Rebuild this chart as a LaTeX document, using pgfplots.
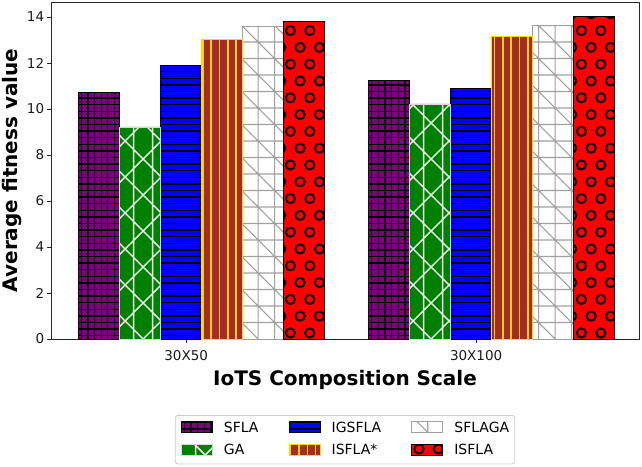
\documentclass[border=0pt]{standalone}
\usepackage{fontspec}
\setmainfont{DejaVu Sans}
\usepackage{pgfplots}
\pgfplotsset{compat=1.18}

\definecolor{mplpurple}{RGB}{128,0,128}
\definecolor{mplgreen}{RGB}{0,128,0}
\definecolor{mplblue}{RGB}{0,0,255}
\definecolor{mplbrown}{RGB}{165,42,42}
\definecolor{mplred}{RGB}{255,0,0}
\definecolor{mplgold}{RGB}{255,215,0}
\definecolor{hatchgray}{RGB}{160,160,160}
\definecolor{gawhite}{RGB}{235,245,235}
\definecolor{framegray}{RGB}{40,40,40}

% hatch helpers (basic layer, so no TikZ options are inherited)
\newcommand\hatchbegin[2]{\begin{pgfscope}\pgftransformshift{\pgfpointanchor{path picture bounding box}{south west}}\pgfsetlinewidth{#1}\pgfsetcolor{#2}}
\newcommand\hatchend{\pgfusepath{stroke}\end{pgfscope}}
\newcommand\vl[1]{\pgfpathmoveto{\pgfqpoint{#1pt}{-2pt}}\pgfpathlineto{\pgfqpoint{#1pt}{345pt}}}
\newcommand\hl[1]{\pgfpathmoveto{\pgfqpoint{-2pt}{#1pt}}\pgfpathlineto{\pgfqpoint{345pt}{#1pt}}}

\tikzset{
  sflahatch/.style={path picture={\hatchbegin{1.3pt}{black}
      \foreach \x in {3.3,9.9,...,345} {\vl{\x}}
      \foreach \y in {3.3,9.9,...,345} {\hl{\y}}
    \hatchend}},
  igshatch/.style={path picture={\hatchbegin{1.3pt}{black}
      \foreach \y in {3.3,9.9,...,345} {\hl{\y}}
    \hatchend}},
  isfstarhatch/.style={path picture={\hatchbegin{1.6pt}{mplgold}
      \foreach \x in {1.7,10.03,...,345} {\vl{\x}}
    \hatchend}},
  gahatch/.style={path picture={\hatchbegin{1.5pt}{gawhite}
      \vl{14.5}\vl{33.5}\vl{304.5}\vl{323.5}
      \foreach \c in {-336,-300,...,350} {\pgfpathmoveto{\pgfqpoint{\c pt}{0pt}}\pgfpathlineto{\pgfpoint{\c pt+360pt}{360pt}}}
      \foreach \c in {-12,24,...,710} {\pgfpathmoveto{\pgfqpoint{\c pt}{0pt}}\pgfpathlineto{\pgfpoint{\c pt-360pt}{360pt}}}
    \hatchend}},
  sflagahatch/.style={path picture={\hatchbegin{1.2pt}{hatchgray}
      \foreach \x in {16,32.5,...,345} {\vl{\x}}
      \foreach \y in {16.5,33,...,345} {\hl{\y}}
      \foreach \c in {16,49,...,710} {\pgfpathmoveto{\pgfqpoint{\c pt}{0pt}}\pgfpathlineto{\pgfpoint{\c pt-360pt}{360pt}}}
    \hatchend}},
  circhatch/.style={path picture={\hatchbegin{1.9pt}{black}
      \foreach \r in {0,2,...,20} {
        \foreach \c in {0,...,17} {
          \pgfpathcircle{\pgfpoint{7.3pt+\c*19.4pt}{6pt+\r*16.8pt}}{4.6pt}
          \pgfpathcircle{\pgfpoint{-2.4pt+\c*19.4pt}{22.8pt+\r*16.8pt}}{4.6pt}
        }
      }
    \hatchend}},
}

\pgfplotsset{
  mybar/.style={ybar, bar width=0.14138, bar shift=#1,
    legend image code/.code={\draw[##1, sharp corners] (0pt,0pt) rectangle (31pt,10.5pt);}},
}

\begin{document}
\begin{tikzpicture}
\begin{axis}[
  name=ax,
  width=588pt, height=337pt, scale only axis,
  xmin=-0.466, xmax=1.5616, ymin=0, ymax=14.652,
  xtick={0,1}, xticklabels={30X50,30X100},
  ytick={0,2,4,6,8,10,12,14},
  tick align=outside, major tick length=4pt,
  xtick pos=bottom, ytick pos=left,
  tick style={framegray, line width=0.8pt},
  axis line style={framegray, line width=0.8pt},
  tick label style={font=\fontsize{13.5}{16}\selectfont, text=black!90},
  /pgf/number format/assume math mode=true,
  yticklabel style={inner sep=0pt, anchor=east, xshift=-2.7pt},
  xticklabel style={inner sep=0pt, anchor=north, yshift=-7pt},
  xlabel={IoTS Composition Scale},
  ylabel={Average fitness value},
  every axis x label/.style={at={(axis description cs:0.5,-0.1365)}, anchor=base, inner sep=0pt, font=\fontsize{20}{24}\selectfont\bfseries},
  every axis y label/.style={at={(axis description cs:-0.0573,0.5)}, rotate=90, anchor=base, inner sep=0pt, font=\fontsize{20}{24}\selectfont\bfseries},
  legend columns=3,
  legend style={
    at={(0.5,-0.2255)}, anchor=north,
    draw=black!20, rounded corners=2.5pt, line width=0.8pt,
    font=\fontsize{14}{16}\selectfont,
    inner xsep=5.5pt, inner ysep=6pt,
    nodes={inner sep=0pt, text height=10.5pt, text depth=3pt},
    cells={anchor=base west},
    row sep=8.8pt,
    /tikz/every odd column/.append style={column sep=11.3pt},
    /tikz/every even column/.append style={column sep=30pt},
  },
]
% order chosen so the 3-column legend fills like the reference
\addplot[mybar=-0.3017, fill=mplpurple, draw=black, line width=0.8pt, sflahatch]
  coordinates {(0,10.71) (1,11.23)};
\addlegendentry{SFLA}
\addplot[mybar=-0.0190, fill=mplblue, draw=black, line width=0.8pt, igshatch]
  coordinates {(0,11.90) (1,10.90)};
\addlegendentry{IGSFLA}
\addplot[mybar=0.2638, fill=white, draw=hatchgray, line width=0.8pt, sflagahatch]
  coordinates {(0,13.58) (1,13.62)};
\addlegendentry{SFLAGA}
\addplot[mybar=-0.1603, fill=mplgreen, draw=white!85!black, line width=0.8pt, gahatch]
  coordinates {(0,9.22) (1,10.22)};
\addlegendentry{GA}
\addplot[mybar=0.1224, fill=mplbrown, draw=mplgold, line width=0.8pt, isfstarhatch]
  coordinates {(0,13.03) (1,13.14)};
\addlegendentry{ISFLA*}
\addplot[mybar=0.4052, fill=mplred, draw=black, line width=0.8pt, circhatch]
  coordinates {(0,13.80) (1,14.01)};
\addlegendentry{ISFLA}
\end{axis}
\pgfresetboundingbox
\path ([shift={(-51pt,-127pt)}]ax.south west) rectangle ([shift={(3pt,2pt)}]ax.north east);
\end{tikzpicture}
\end{document}
